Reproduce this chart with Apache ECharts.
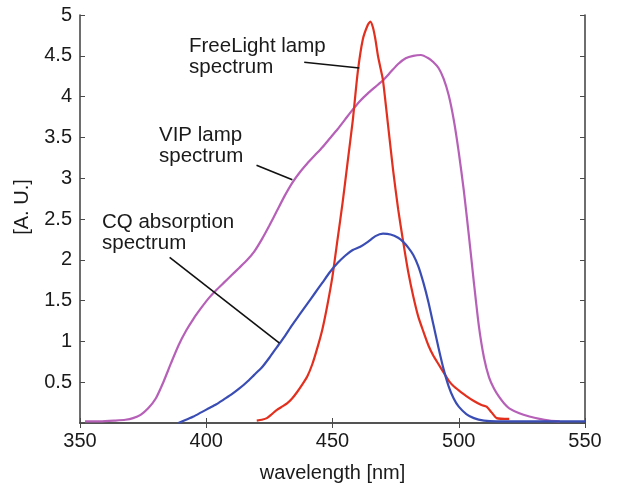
<!DOCTYPE html>
<html>
<head>
<meta charset="utf-8">
<script src="https://cdn.jsdelivr.net/npm/echarts@6/dist/echarts.min.js"></script>
<style>
html,body{margin:0;padding:0;background:#fff;}
#chart{width:617px;height:487px;}
</style>
</head>
<body>
<div id="chart"></div>
<script>
// wavelength [nm] and values [A.U.]
var vipX = [352,358,364,368,371,374,377,380,383,386,389,392,395,398,401,404,407,410,413,416,419,422,425,428,431,434,437,440,443,446,449,452,455,458,461,464,467,470,473,476,479,482,485,488,490,492,494,496,498,500,502,504,506,508,510,512,514,516,518,520,524,528,532,536,540];
var vipY = [0.02,0.02,0.03,0.04,0.06,0.10,0.18,0.30,0.50,0.73,0.95,1.13,1.28,1.41,1.53,1.63,1.72,1.81,1.90,1.99,2.10,2.25,2.42,2.60,2.78,2.94,3.07,3.18,3.28,3.38,3.49,3.60,3.72,3.84,3.95,4.04,4.12,4.20,4.30,4.40,4.47,4.50,4.51,4.47,4.42,4.35,4.22,4.02,3.72,3.32,2.85,2.30,1.72,1.18,0.80,0.56,0.42,0.32,0.24,0.18,0.12,0.08,0.05,0.03,0.02];

var freeX = [420,422,424,426,428,430,432,434,436,438,440,442,444,446,448,450,452,454,456,458,460,462,464,465,466,467,468,469,470,472,474,476,478,480,482,484,486,488,490,492,494,496,498,500,503,506,509,511,513,515,520];
var freeY = [0.03,0.04,0.06,0.11,0.16,0.20,0.24,0.30,0.38,0.47,0.57,0.72,0.92,1.15,1.45,1.80,2.25,2.70,3.20,3.70,4.30,4.70,4.88,4.92,4.85,4.70,4.50,4.35,4.20,3.65,3.10,2.62,2.22,1.85,1.55,1.30,1.12,0.95,0.82,0.72,0.62,0.52,0.45,0.40,0.33,0.27,0.22,0.20,0.13,0.06,0.05];

var cqX = [389,392,395,398,401,404,407,410,413,416,419,422,425,428,431,434,437,440,443,446,449,452,455,458,461,464,467,470,473,476,478,480,482,484,486,488,490,492,494,496,498,500,503,506,510,515,525,535,550];
var cqY = [0.00,0.04,0.08,0.13,0.18,0.23,0.29,0.35,0.42,0.50,0.59,0.68,0.80,0.93,1.06,1.20,1.33,1.46,1.59,1.72,1.85,1.96,2.05,2.12,2.16,2.22,2.29,2.32,2.31,2.27,2.22,2.15,2.06,1.92,1.72,1.48,1.20,0.92,0.66,0.45,0.30,0.20,0.11,0.06,0.03,0.02,0.02,0.02,0.02];

var xTicks = [350,400,450,500,550];
var yTicks = [0.5,1,1.5,2,2.5,3,3.5,4,4.5,5];

function pairs(xs, ys){ return xs.map(function(x,i){ return [x, ys[i]]; }); }

var FONT = '"Liberation Sans", Arial, Helvetica, sans-serif';
var TXT = '#1a1a1a';
var AX = '#4a4a4a';

var chart = echarts.init(document.getElementById('chart'), null, {renderer:'canvas'});

function leader(coords){
  return {
    silent: true, symbol: ['none','none'], animation:false,
    lineStyle: {color:'#111', width:1.6, type:'solid'},
    label: {show:false},
    data: [[{coord: coords[0]}, {coord: coords[1]}]]
  };
}

var option = {
  animation: false,
  backgroundColor: '#fff',
  grid: {left: 80, right: 32, top: 15, bottom: 64, show:false, containLabel:false, outerBoundsMode:'none'},
  xAxis: [
    {type:'value', min:350, max:550, interval:50, position:'bottom',
     name:'wavelength [nm]', nameLocation:'middle', nameGap:40,
     nameTextStyle:{fontFamily:FONT, fontSize:20, color:TXT},
     axisLine:{show:true, lineStyle:{color:AX, width:1.6}},
     axisTick:{show:true, inside:true, length:5, lineStyle:{color:AX}},
     axisLabel:{fontFamily:FONT, fontSize:20, color:TXT, margin:8,
       formatter:function(v){ return xTicks.indexOf(v) >= 0 ? String(v) : ''; }},
     splitLine:{show:false}},
    {type:'value', min:350, max:550, interval:50, position:'top',
     axisLine:{show:true, lineStyle:{color:AX, width:1.6}},
     axisTick:{show:true, inside:true, length:5, lineStyle:{color:AX}},
     axisLabel:{show:false}, splitLine:{show:false}}
  ],
  yAxis: [
    {type:'value', min:0, max:5, interval:0.5, position:'left',
     axisLine:{show:true, lineStyle:{color:AX, width:1.6}},
     axisTick:{show:true, inside:true, length:5, lineStyle:{color:AX}},
     axisLabel:{fontFamily:FONT, fontSize:20, color:TXT, margin:8,
       formatter:function(v){ return yTicks.indexOf(v) >= 0 ? String(v) : ''; }},
     splitLine:{show:false}},
    {type:'value', min:0, max:5, interval:0.5, position:'right',
     axisLine:{show:true, lineStyle:{color:AX, width:1.6}},
     axisTick:{show:true, inside:true, length:5, lineStyle:{color:AX}},
     axisLabel:{show:false}, splitLine:{show:false}}
  ],
  series: [
    {name:'VIP lamp spectrum', type:'line', data:pairs(vipX, vipY), showSymbol:false, smooth:0.2,
     lineStyle:{color:'#b660b8', width:2.2}, itemStyle:{color:'#b660b8'},
     markLine: leader([[419.9,3.16],[434.1,2.98]])},
    {name:'FreeLight lamp spectrum', type:'line', data:pairs(freeX, freeY), showSymbol:false, smooth:0.2,
     lineStyle:{color:'#e3301e', width:2.2}, itemStyle:{color:'#e3301e'},
     markLine: leader([[438.8,4.42],[460.6,4.35]])},
    {name:'CQ absorption spectrum', type:'line', data:pairs(cqX, cqY), showSymbol:false, smooth:0.2,
     lineStyle:{color:'#3a4db4', width:2.2}, itemStyle:{color:'#3a4db4'},
     markLine: leader([[385.5,2.03],[429.0,0.98]])}
  ],
  graphic: [
    {type:'text', x:22, y:207, rotation:Math.PI/2,
     style:{text:'[A. U.]', fontFamily:FONT, fontSize:20, fill:TXT, align:'center', verticalAlign:'middle'}},
    {type:'text', left:189, top:36, style:{text:'FreeLight lamp\nspectrum', fontFamily:FONT, fontSize:20.5, lineHeight:21, fill:TXT}},
    {type:'text', left:159, top:125, style:{text:'VIP lamp\nspectrum', fontFamily:FONT, fontSize:20.5, lineHeight:21, fill:TXT}},
    {type:'text', left:102, top:212, style:{text:'CQ absorption\nspectrum', fontFamily:FONT, fontSize:20.5, lineHeight:21, fill:TXT}}
  ]
};
chart.setOption(option);
</script>
</body>
</html>
